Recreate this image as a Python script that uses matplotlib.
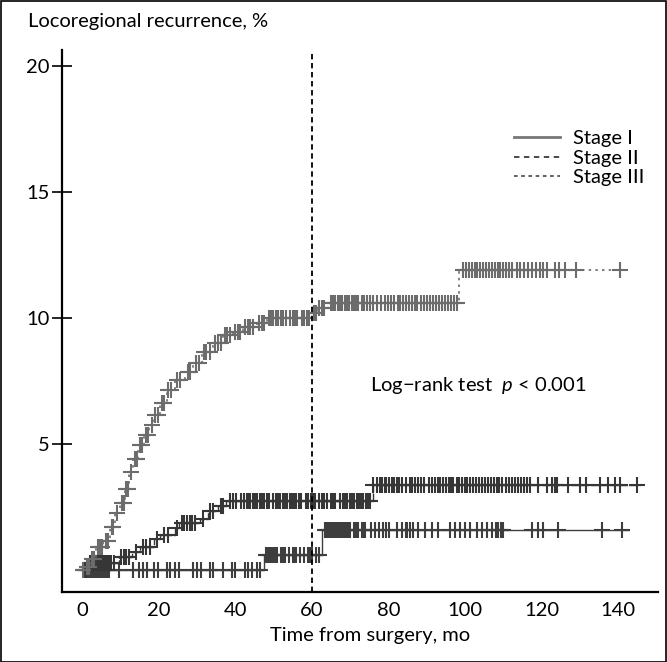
import matplotlib
matplotlib.use("Agg")
import matplotlib.pyplot as plt
import numpy as np
from matplotlib.patches import Rectangle

# Kaplan-Meier style step curves: event times (months) and cumulative recurrence (%)
stage1_times = [0, 47.5, 62.8]
stage1_values = [0, 0.6, 1.6]
stage1_end = 142.6
stage1_censor = [0.5, 1, 1.5, 2, 2.5, 3, 3.5, 4, 4.5, 5, 5.5, 6, 6.5, 7, 9.7, 13.4,
                 14.9, 16, 17, 18.9, 19.9, 22.3, 23, 24.3, 25.4, 28.9, 30.1, 31.2,
                 33.4, 34.1, 36.9, 39.3, 40, 42.6, 43.4, 44.3, 45.6, 46.5,
                 48, 48.5, 49, 49.5, 50, 50.5, 51, 52, 52.5, 53, 54, 55, 55.5, 56,
                 57, 58, 59, 59.5, 60, 61, 62, 63.4, 64, 64.5, 65, 65.5, 66, 66.5,
                 67, 67.5, 68, 68.5, 69, 69.5, 70, 71, 71.5, 72, 73, 73.5, 74, 75.5,
                 76.5, 77.5, 78.5, 79.5, 80.3, 82.2, 83.5, 84.5, 85, 85.6, 86.5,
                 87.8, 89.5, 91.3, 93, 96.2, 97.4, 98.7, 100, 101.3, 103.2, 104.4,
                 105.7, 107, 108, 108.7, 109.3, 110, 117.4, 119.1, 120.4, 124.4,
                 135.7, 140.9]

stage2_times = [0, 1.5, 9.7, 13.2, 15.1, 18.8, 20.4, 24.2, 25.4, 30.7, 32.8, 35.5,
                37.7, 76]
stage2_values = [0, 0.27, 0.5, 0.73, 0.93, 1.22, 1.39, 1.65, 1.85, 2.02, 2.35, 2.54,
                 2.73, 3.37]
stage2_end = 145.8
stage2_censor = [1, 2, 2.5, 3, 3.5, 4, 4.5, 5, 5.5, 6, 6.5, 7, 7.5, 8.5, 10.3, 11,
                 11.6, 12.3, 14, 16, 16.8, 17.8, 19.5, 21.5, 22.5, 24.7, 26, 26.7,
                 27.4, 28.1, 28.8, 29.6, 31.5, 33.5, 34.3, 36.2, 36.9, 38.6, 39.5,
                 40.3, 41.5, 42.2, 43, 43.5, 44, 44.6, 45.2, 45.8, 46.4, 47, 47.6,
                 48.2, 48.8, 50, 50.6, 51.2, 51.8, 52.4, 53, 53.6, 54.2, 54.8, 55.4,
                 56, 56.6, 57.2, 58.5, 59.1, 59.7, 60.3, 60.9, 62, 62.6, 63.2, 64,
                 65, 65.6, 66.2, 67.5, 68.1, 68.7, 69.3, 69.9, 70.5, 71.1, 71.7,
                 72.3, 72.9, 73.5, 74.1, 74.7, 75.3, 76.1, 77, 77.7, 78.3, 79, 79.5,
                 80.2, 81, 81.6, 82.2, 82.8, 83.5, 84.5, 85.6, 86.2, 87, 87.8, 88.5,
                 89.2, 90.5, 91.3, 92.3, 93, 93.6, 94.2, 95, 95.8, 96.4, 97, 97.8,
                 98.5, 99.2, 100, 100.6, 101.3, 102, 102.8, 103.6, 104.4, 105.2,
                 106, 106.8, 107.5, 108.3, 109, 109.8, 110.6, 111.5, 112.3, 113,
                 113.8, 114.6, 115.4, 116.2, 117, 119.1, 121.3, 122.6, 123.4, 124,
                 127, 130, 131.6, 135.3, 137.4, 139.2, 140.6, 145]

stage3_times = [0, 0.8, 2.1, 3.8, 5.6, 7.3, 8.6, 9.9, 11.2, 12.3, 13.4, 14.7, 16.2,
                17.6, 18.8, 20.4, 22.1, 24.3, 26.9, 29.1, 31.3, 34.3, 36.9, 39.5,
                42.1, 45.6, 48.2, 60, 61.5, 64.2, 98.5]
stage3_values = [0, 0.13, 0.45, 0.9, 1.15, 1.72, 2.25, 2.65, 3.2, 3.9, 4.4, 4.95,
                 5.35, 5.75, 6.15, 6.61, 7.14, 7.54, 7.87, 8.2, 8.66, 8.99, 9.32,
                 9.46, 9.66, 9.79, 10.0, 10.2, 10.38, 10.6, 11.9]
stage3_end = 141.5
stage3_censor = [0.4, 1.2, 1.8, 2.6, 3.2, 4.2, 4.8, 5.2, 6.2, 6.8, 7.8, 8.2, 9.2,
                 10.4, 10.9, 11.6, 12.0, 12.8, 13.9, 14.3, 15.2, 15.8, 16.6, 17.2,
                 18.2, 19.2, 19.8, 20.8, 21.4, 22.6, 23.2, 24.8, 25.5, 27.6, 28.2,
                 29.7, 30.5, 31.8, 32.5, 33.4, 34.8, 35.5, 36.2, 37.4, 38, 38.7,
                 40, 40.7, 41.4, 42.6, 43.3, 44, 44.7, 46.2, 46.9, 47.6, 48.8, 49.4,
                 50, 50.6, 51.2, 52, 52.6, 53.2, 54.4, 55, 55.6, 56.2, 57.5, 58.1,
                 58.7, 59.3, 60.5, 61, 62, 62.6, 63.2, 65, 65.6, 66.2, 66.8, 67.4,
                 68, 68.6, 69.2, 69.8, 70.4, 71, 71.6, 72.2, 73, 73.6, 74.5, 75.2,
                 76, 77, 78, 79.2, 80, 80.8, 81.6, 82.4, 83, 83.8, 84.6, 85.4, 86.2,
                 87, 87.6, 88.4, 89.2, 90, 90.8, 91.6, 92.4, 93.2, 94, 94.8, 95.6,
                 96.4, 97.2, 98, 99.5, 100.2, 101, 101.8, 102.5, 103.2, 104, 104.8,
                 105.5, 106.2, 107, 107.8, 108.5, 109.2, 110, 110.8, 111.5, 112.2,
                 113.5, 114.5, 115.5, 116.5, 117.5, 118.5, 119.5, 120.5, 121.5,
                 123.5, 124.5, 126, 129, 140.5]

plt.rcParams["font.family"] = ["Lato", "DejaVu Sans"]
plt.rcParams["mathtext.fontset"] = "custom"
plt.rcParams["mathtext.rm"] = "Lato"
plt.rcParams["mathtext.it"] = "Lato:italic"
FS = 14.5


def value_at(times, values, t):
    idx = np.searchsorted(times, t, side="right") - 1
    return np.asarray(values)[idx]


fig = plt.figure(figsize=(6.67, 6.62), dpi=100)
ax = fig.add_axes([62 / 667, 1 - 592 / 662, 596 / 667, 542 / 662])

curves = [
    (stage1_times, stage1_values, stage1_end, stage1_censor, "#3e3e3e", "-", 1.0),
    (stage2_times, stage2_values, stage2_end, stage2_censor, "#363636", (0, (6, 1)), 1.0),
    (stage3_times, stage3_values, stage3_end, stage3_censor, "#6c6c6c", (0, (1.5, 2.5)), 1.2),
]
for times, values, end, censor, color, ls, lw in curves:
    xs = list(times) + [end]
    ys = list(values) + [values[-1]]
    ax.step(xs, ys, where="post", color=color, linestyle=ls, linewidth=lw)
    ax.plot(censor, value_at(times, values, censor), linestyle="none", marker="+",
            markersize=11, markeredgewidth=1.5, color=color)

ax.axvline(60, color="black", linestyle=(0, (3, 2)), linewidth=1.3, ymax=0.995)

ax.set_xlim(-5.2, 150.4)
ax.set_ylim(-0.87, 20.63)
ax.set_xticks([0, 20, 40, 60, 80, 100, 120, 140])
ax.set_yticks([5, 10, 15, 20])
ax.tick_params(axis="x", length=0, pad=7, labelsize=FS)
ax.tick_params(axis="y", direction="inout", length=14, width=1.2, pad=2, labelsize=FS)
for side in ["top", "right"]:
    ax.spines[side].set_visible(False)
for side in ["left", "bottom"]:
    ax.spines[side].set_linewidth(1.6)

ax.set_xlabel("Time from surgery, mo", fontsize=FS)
ax.xaxis.set_label_coords((370 - 62) / 596, -0.064)
fig.text(28 / 667, 1 - 22 / 662, "Locoregional recurrence, %", fontsize=FS,
         ha="left", va="center")

ax.text(75.2, 7.34, "Log\u2212rank test  $p$ < 0.001", fontsize=FS, ha="left", va="center")

handles = [
    plt.Line2D([], [], color="#777777", linestyle="-", linewidth=2.0),
    plt.Line2D([], [], color="#3a3a3a", linestyle=(0, (3, 2.5)), linewidth=1.3),
    plt.Line2D([], [], color="#555555", linestyle=(0, (2, 2)), linewidth=1.3),
]
ax.legend(handles, ["Stage I", "Stage II", "Stage III"], loc="upper left",
          bbox_to_anchor=((506 - 62) / 596, 1 - (122 - 50) / 542), frameon=False,
          fontsize=FS, handlelength=2.3, handletextpad=0.65, labelspacing=0.12,
          borderaxespad=0)

fig.add_artist(Rectangle((0.5 / 667, 0.5 / 662), 665.5 / 667, 660.5 / 662,
                         transform=fig.transFigure, fill=False, edgecolor="black",
                         linewidth=1.2))

fig.savefig("out.png", dpi=100)
